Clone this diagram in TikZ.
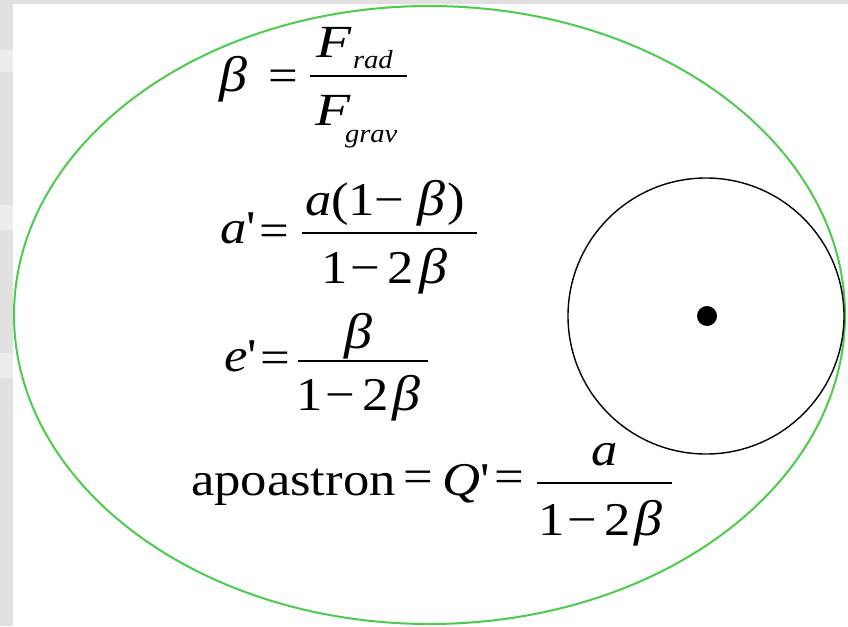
\documentclass[tikz,border=0pt]{standalone}
\usepackage{fontspec}
\setmainfont{Liberation Serif}[Ligatures=TeXOff]
\definecolor{orbitgreen}{RGB}{76,204,76}
\definecolor{bggray}{RGB}{225,225,225}
\definecolor{stripegray}{RGB}{237,237,237}
\newcommand\bt{{\fontsize{50}{56}\selectfont\itshape β}}
\begin{document}
\begin{tikzpicture}[x=1pt,y=-1pt,
  big/.style={inner sep=0pt, outer sep=0pt, xscale=1.12, font=\fontsize{47}{56}\selectfont},
  bigF/.style={inner sep=0pt, outer sep=0pt, xscale=1.25, font=\fontsize{46}{56}\selectfont\itshape},
  sub/.style={inner sep=0pt, outer sep=0pt, xscale=1.1, font=\fontsize{26}{30}\selectfont\itshape},
  fracbar/.style={line width=1.8pt},
  orbit/.style={draw=orbitgreen, line width=2pt},
  ring/.style={draw=black, line width=1.4pt}]
\useasboundingbox (0,0) rectangle (848,626);
% background
\fill[bggray] (0,0) rectangle (848,626);
\fill[stripegray] (0,50) rectangle (13,72);
\fill[stripegray] (0,205) rectangle (13,230);
\fill[stripegray] (0,353) rectangle (13,378);
\fill[white] (13,4) rectangle (848,626);
% orbit ellipse and circle
\draw[orbit] (429.5,315) ellipse [x radius=415.5, y radius=309];
\draw[ring] (706,316) circle [radius=138];
\fill[black] (707,316) circle [radius=10];
% equation 1
\node[big, anchor=base west] (b1) at (219,92) {\bt};
\node[big, anchor=base] (e1) at (283.5,91) {=};
\node[bigF, anchor=base west] (f1) at (316,57) {F};
\node[sub, anchor=base west] (rad) at (353,68) {rad};
\coordinate (bar1l) at (310,76);
\coordinate (bar1r) at (407,76);
\draw[fracbar] (bar1l) -- (bar1r);
\node[bigF, anchor=base west] (f2) at (315,125) {F};
\node[sub, anchor=base west] (grav) at (345,142) {grav};
% equation 2
\node[big, anchor=base west] (a2) at (220,243) {\itshape a\upshape '};
\node[big, anchor=base] (e2) at (274,246) {=};
\coordinate (bar2l) at (302,233);
\coordinate (bar2r) at (477,233);
\draw[fracbar] (bar2l) -- (bar2r);
\node[big, anchor=base west] (n2) at (305,215) {\itshape a\upshape (1\hspace{-1pt}−\hspace{12pt}\bt\hspace{2pt}\upshape )};
\node[big, anchor=base west] (d2) at (321,283) {1\hspace{3pt}−\hspace{6pt}2\hspace{5pt}\bt};
% equation 3
\node[big, anchor=base west] (e3l) at (224,371) {\itshape e\upshape '};
\node[big, anchor=base] (e3) at (275,373.5) {=};
\coordinate (bar3l) at (298,361);
\coordinate (bar3r) at (428,361);
\draw[fracbar] (bar3l) -- (bar3r);
\node[big, anchor=base west] (n3) at (344,348) {\bt};
\node[big, anchor=base west] (d3) at (296,410) {1\hspace{3pt}−\hspace{6pt}2\hspace{4pt}\bt};
% equation 4
\node[big, anchor=base west] (apo) at (191,495) {apoastron};
\node[big, anchor=base] (e4a) at (418,492) {=};
\node[big, anchor=base west] (q4) at (442,495) {\itshape Q\upshape '};
\node[big, anchor=base] (e4b) at (509,492) {=};
\coordinate (bar4l) at (537,483);
\coordinate (bar4r) at (672,483);
\draw[fracbar] (bar4l) -- (bar4r);
\node[big, anchor=base west] (n4) at (591,465) {\itshape a};
\node[big, anchor=base west] (d4) at (538,535) {1\hspace{3pt}−\hspace{6pt}2\hspace{4pt}\bt};
\end{tikzpicture}
\end{document}
